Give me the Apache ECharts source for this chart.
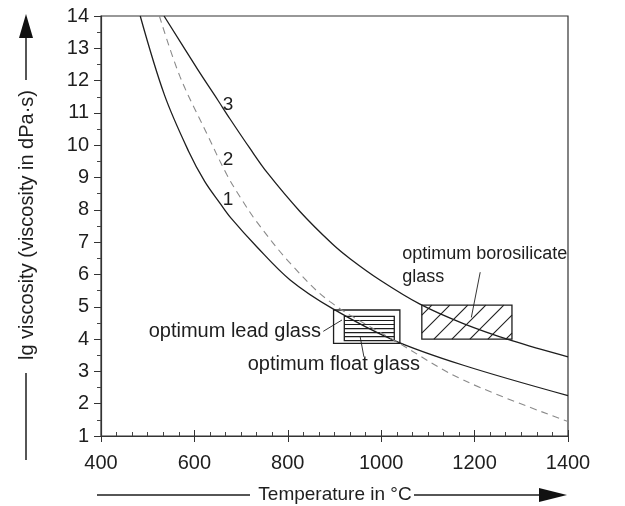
<!DOCTYPE html>
<html><head><meta charset="utf-8">
<script src="https://cdn.jsdelivr.net/npm/echarts@6/dist/echarts.min.js"></script>
<style>html,body{margin:0;padding:0;background:#fff}#c{width:625px;height:506px}</style>
</head><body><div id="c"></div>
<script>
// ---- data ----
const xRange = [400, 1400];
const yRange = [1, 14];
// curve 1 (solid, lower)
const curve1 = [[484,14],[536,11.55],[588,9.8],[622,8.88],[655,8.2],[678,7.75],[734,6.85],[805,5.83],[895,4.95],[1026,3.97],[1176,3.19],[1400,2.25]];
// curve 2 (dashed)
const curve2 = [[525,14],[569,12.13],[626,10.38],[669,9.1],[700,8.35],[734,7.62],[805,6.35],[891,5.15],[1034,3.91],[1176,2.73],[1400,1.45]];
// curve 3 (solid, upper)
const curve3 = [[535,14],[609,12.3],[650,11.4],[676,10.82],[719,9.9],[756,9.15],[826,7.95],[895,6.95],[934,6.48],[998,5.82],[1083,5.08],[1176,4.48],[1280,3.95],[1400,3.45]];
const curveLabelText = ['1','2','3'];
const curveLabelAt = [[672,8.31],[672,9.55],[672,11.26]];
// glass boxes: [T1, lg1, T2, lg2]
const leadBox = [898, 3.87, 1040, 4.9];
const floatBox = [921, 3.95, 1028, 4.7];
const boroBox = [1087, 4.0, 1280, 5.05];
const boxes = [leadBox, floatBox, boroBox];
const boxPattern = ['plain', 'stripes', 'diagonal'];
// annotations
const noteText = ['optimum lead glass', 'optimum float glass', 'optimum borosilicate', 'glass'];
const noteAt = [[871,4.22],[1083,3.22],[1045,6.63],[1045,5.92]];
const noteAlign = ['right','right','left','left'];
// leader lines
const leaders = [[[876,4.24],[916,4.59]], [[955,4.07],[963,3.45]], [[1193,4.67],[1212,6.07]]];

// ---- chart ----
const FONT = "'Liberation Sans', Arial, Helvetica, sans-serif";
const INK = '#1e1e1e';
const chart = echarts.init(document.getElementById('c'), null, {renderer:'canvas'});

function boxItem(params, api) {
  const b = boxes[params.dataIndex];
  const p1 = api.coord([b[0], b[3]]);
  const p2 = api.coord([b[2], b[1]]);
  const x0 = p1[0], y0 = p1[1], x1 = p2[0], y1 = p2[1];
  const w = x1 - x0, h = y1 - y0;
  const children = [{type:'rect', shape:{x:x0, y:y0, width:w, height:h}, style:{fill:'none', stroke:INK, lineWidth:1.3}}];
  const pat = boxPattern[params.dataIndex];
  const ls = {stroke:INK, lineWidth:1.1};
  if (pat === 'stripes') {
    const n = 6;
    for (let i = 1; i < n; i++) {
      const yy = y0 + h * i / n;
      children.push({type:'line', shape:{x1:x0, y1:yy, x2:x1, y2:yy}, style:ls});
    }
  } else if (pat === 'diagonal') {
    const step = 18, s = 1.0;
    for (let k = x0 + 10; k < x1 + h * s; k += step) {
      const xa = Math.max(x0, k - s * h), xb = Math.min(x1, k);
      if (xb <= xa) continue;
      const ya = y0 + (k - xa) / s, yb = y0 + (k - xb) / s;
      children.push({type:'line', shape:{x1:xa, y1:ya, x2:xb, y2:yb}, style:ls});
    }
  }
  return {type:'group', children};
}

const option = {
  animation: false,
  backgroundColor: '#fff',
  grid: {left:101, right:57, top:16, bottom:70, show:true, borderColor:'#333', borderWidth:1.2, backgroundColor:'transparent'},
  xAxis: [{
    type:'value', min:xRange[0], max:xRange[1], interval:200,
    axisLine:{lineStyle:{color:'#333', width:1.2}},
    axisTick:{inside:true, length:6, lineStyle:{color:'#333'}},
    minorTick:{show:true, splitNumber:6, length:4, lineStyle:{color:'#444'}},
    splitLine:{show:false},
    axisLabel:{color:INK, fontSize:20, fontFamily:FONT, margin:17, formatter:v => String(v)}
  },{
    type:'value', min:xRange[0], max:xRange[1], interval:200, position:'bottom',
    axisLine:{show:false}, axisTick:{show:true, length:6, lineStyle:{color:'#333'}},
    axisLabel:{show:false}, splitLine:{show:false}
  }],
  yAxis: {
    type:'value', min:yRange[0], max:yRange[1], interval:1,
    axisLine:{lineStyle:{color:'#333', width:1.2}},
    axisTick:{length:7, lineStyle:{color:'#333'}},
    minorTick:{show:true, splitNumber:2, length:4, lineStyle:{color:'#444'}},
    splitLine:{show:false},
    axisLabel:{color:INK, fontSize:20, fontFamily:FONT, margin:12}
  },
  series: [
    {type:'line', data:curve1, smooth:0.35, showSymbol:false, lineStyle:{color:INK, width:1.3}, silent:true},
    {type:'line', data:curve2, smooth:0.35, showSymbol:false, lineStyle:{color:'#8a8a8a', width:1.1, type:[7,5]}, silent:true},
    {type:'line', data:curve3, smooth:0.35, showSymbol:false, lineStyle:{color:INK, width:1.3}, silent:true},
    {type:'custom', data:boxes.map(b => b.slice()), encode:{x:[0,2], y:[1,3]}, renderItem:boxItem, silent:true, z:3},
    {type:'custom', data:leaders.map(l => [l[0][0], l[0][1], l[1][0], l[1][1]]), encode:{x:[0,2], y:[1,3]}, silent:true, z:3,
      renderItem:(params, api) => {
        const a = api.coord([api.value(0), api.value(1)]), b = api.coord([api.value(2), api.value(3)]);
        return {type:'line', shape:{x1:a[0], y1:a[1], x2:b[0], y2:b[1]}, style:{stroke:INK, lineWidth:0.9}};
      }},
    {type:'custom', data:curveLabelAt, silent:true, z:4,
      renderItem:(params, api) => {
        const p = api.coord([api.value(0), api.value(1)]);
        return {type:'text', x:p[0], y:p[1], style:{text:curveLabelText[params.dataIndex], fill:INK, fontSize:19, fontFamily:FONT, align:'center', verticalAlign:'middle'}};
      }},
    {type:'custom', data:noteAt, silent:true, z:4, clip:false,
      renderItem:(params, api) => {
        const p = api.coord([api.value(0), api.value(1)]);
        const i = params.dataIndex;
        return {type:'text', x:p[0], y:p[1], style:{text:noteText[i], fill:INK, fontSize:(i >= 2 ? 18 : 20), fontFamily:FONT, align:noteAlign[i], verticalAlign:'middle'}};
      }}
  ],
  graphic: [
    {type:'text', x:27, y:225, rotation:Math.PI/2, style:{text:'lg viscosity (viscosity in dPa·s)', fill:INK, fontSize:20, fontFamily:FONT, align:'center', verticalAlign:'middle'}},
    {type:'line', shape:{x1:26, y1:373, x2:26, y2:460}, style:{stroke:INK, lineWidth:1.5}},
    {type:'line', shape:{x1:26, y1:36, x2:26, y2:80}, style:{stroke:INK, lineWidth:1.5}},
    {type:'polygon', shape:{points:[[26,14],[19,38],[33,38]]}, style:{fill:'#111'}},
    {type:'text', x:335, y:495, style:{text:'Temperature in °C', fill:INK, fontSize:19, fontFamily:FONT, align:'center', verticalAlign:'middle'}},
    {type:'line', shape:{x1:97, y1:495, x2:250, y2:495}, style:{stroke:INK, lineWidth:1.5}},
    {type:'line', shape:{x1:414, y1:495, x2:542, y2:495}, style:{stroke:INK, lineWidth:1.5}},
    {type:'polygon', shape:{points:[[567,495],[539,488],[539,502]]}, style:{fill:'#111'}}
  ]
};
chart.setOption(option);
</script></body></html>
